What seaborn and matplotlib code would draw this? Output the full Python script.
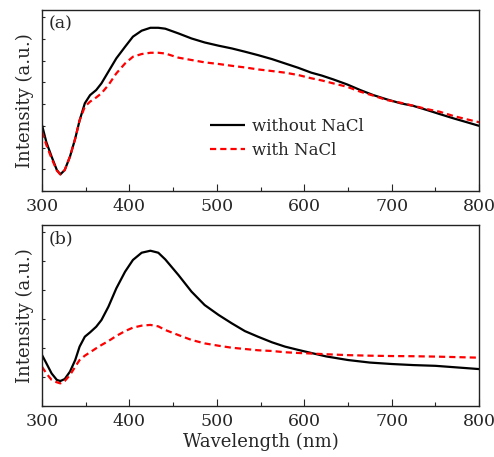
import matplotlib
matplotlib.use("Agg")
import matplotlib.pyplot as plt
import seaborn as sns
import pandas as pd
from matplotlib.ticker import MultipleLocator

# Panel (a) spectra (normalised)
wl_a = [300, 305, 311, 317, 321, 326, 332, 338, 343, 349, 355, 362, 368, 376, 385,
        395, 404, 414, 424, 433, 441, 456, 471, 486, 502, 517, 532, 547, 563, 578,
        593, 608, 620, 633, 649, 664, 679, 694, 710, 725, 740, 755, 771, 786, 800]
without_a = [0.365, 0.27, 0.19, 0.116, 0.092, 0.116, 0.19, 0.29, 0.39, 0.485, 0.53,
             0.558, 0.595, 0.66, 0.733, 0.797, 0.853, 0.886, 0.902, 0.902, 0.897,
             0.871, 0.843, 0.821, 0.803, 0.788, 0.77, 0.751, 0.729, 0.705, 0.681,
             0.654, 0.638, 0.617, 0.589, 0.558, 0.53, 0.507, 0.485, 0.47, 0.448,
             0.425, 0.401, 0.38, 0.36]
with_a = [0.328, 0.254, 0.18, 0.113, 0.092, 0.116, 0.19, 0.29, 0.39, 0.466, 0.494,
          0.517, 0.54, 0.586, 0.65, 0.705, 0.742, 0.757, 0.764, 0.764, 0.76, 0.737,
          0.724, 0.711, 0.702, 0.692, 0.683, 0.672, 0.663, 0.654, 0.641, 0.623,
          0.611, 0.595, 0.576, 0.549, 0.527, 0.503, 0.488, 0.471, 0.453, 0.438,
          0.414, 0.396, 0.38]

# Panel (b) spectra
wl_b = [300, 305, 311, 317, 321, 326, 332, 338, 343, 349, 355, 362, 368, 376, 385,
        395, 404, 414, 424, 433, 441, 456, 471, 486, 502, 517, 532, 547, 563, 578,
        593, 608, 625, 650, 675, 700, 725, 750, 775, 800]
without_b = [0.282, 0.236, 0.18, 0.144, 0.138, 0.149, 0.19, 0.254, 0.328, 0.383,
             0.407, 0.438, 0.475, 0.549, 0.65, 0.742, 0.807, 0.847, 0.858, 0.847,
             0.81, 0.724, 0.632, 0.558, 0.503, 0.457, 0.414, 0.383, 0.352, 0.328,
             0.31, 0.293, 0.274, 0.254, 0.24, 0.232, 0.226, 0.222, 0.213, 0.204]
with_b = [0.217, 0.18, 0.144, 0.131, 0.125, 0.138, 0.171, 0.217, 0.254, 0.278,
          0.297, 0.319, 0.337, 0.359, 0.387, 0.414, 0.433, 0.444, 0.448, 0.44,
          0.42, 0.392, 0.365, 0.346, 0.333, 0.322, 0.315, 0.308, 0.304, 0.297,
          0.293, 0.29, 0.286, 0.281, 0.278, 0.276, 0.275, 0.273, 0.27, 0.267]

labels = ["without NaCl", "with NaCl"]

sns.set_style("ticks")
plt.rcParams["font.family"] = ["DejaVu Serif"]
plt.rcParams["font.size"] = 12

fig = plt.figure(figsize=(4.94, 4.57), dpi=100)
ax_a = fig.add_axes([0.085, 0.582, 0.885, 0.396])
ax_b = fig.add_axes([0.085, 0.1116, 0.885, 0.396])


def draw(ax, wl, y1, y2, tag, ystep):
    df = pd.DataFrame({
        "wl": list(wl) * 2,
        "I": list(y1) + list(y2),
        "s": [labels[0]] * len(wl) + [labels[1]] * len(wl),
    })
    sns.lineplot(data=df, x="wl", y="I", hue="s", style="s",
                 palette=["black", "red"], dashes=[(1, 0), (2.8, 1.8)],
                 linewidth=1.6, ax=ax, legend=True)
    ax.set_xlim(300, 800)
    ax.set_ylim(0, 1)
    ax.xaxis.set_major_locator(MultipleLocator(100))
    ax.xaxis.set_minor_locator(MultipleLocator(50))
    ax.yaxis.set_major_locator(MultipleLocator(ystep))
    ax.tick_params(axis="x", which="major", direction="in", length=5, width=0.8)
    ax.tick_params(axis="x", which="minor", direction="in", length=3, width=0.8)
    ax.tick_params(axis="y", direction="in", length=2, width=0.8, labelleft=False)
    ax.tick_params(axis="x", labelsize=12.5, pad=5)
    for sp in ax.spines.values():
        sp.set_visible(True)
        sp.set_linewidth(1.0)
        sp.set_color("#222222")
    ax.set_xlabel("")
    ax.set_ylabel("Intensity (a.u.)", fontsize=13, labelpad=6)
    ax.text(0.015, 0.9, tag, transform=ax.transAxes, fontsize=12.5)


draw(ax_a, wl_a, without_a, with_a, "(a)", 0.12)
draw(ax_b, wl_b, without_b, with_b, "(b)", 0.16)

leg = ax_a.legend(loc="center left", bbox_to_anchor=(0.384, 0.29), frameon=False,
                  borderpad=0, borderaxespad=0, handlelength=2.1,
                  handletextpad=0.45, labelspacing=0.45, fontsize=12)
ax_b.get_legend().remove()

ax_b.set_xlabel("Wavelength (nm)", fontsize=13, labelpad=2)

fig.savefig("out.png", dpi=100)
